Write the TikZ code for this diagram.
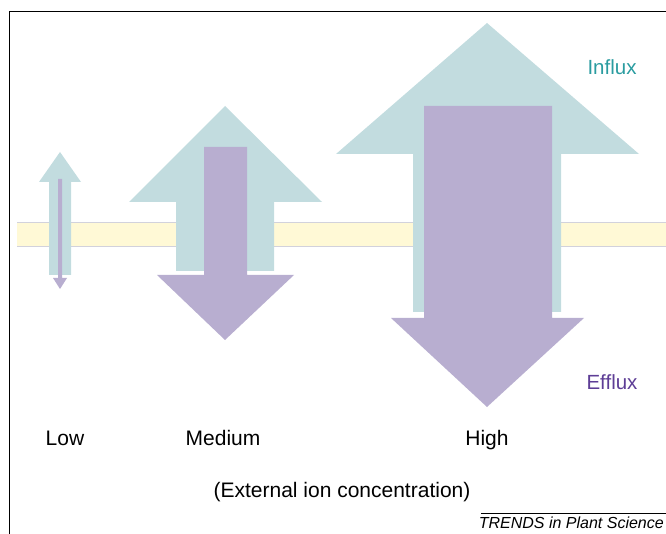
\documentclass[tikz,border=0pt]{standalone}
\usepackage{fontspec}
\setmainfont{Liberation Sans}
\definecolor{influxfill}{HTML}{C2DCDF}
\definecolor{effluxfill}{HTML}{B8AED0}
\definecolor{membrane}{HTML}{FFF9D6}
\definecolor{membraneline}{HTML}{D2D2DC}
\definecolor{influxtext}{HTML}{2A9CA0}
\definecolor{effluxtext}{HTML}{5E3E96}
\tikzset{
  inarrow/.style={fill=influxfill, draw=none},
  outarrow/.style={fill=effluxfill, draw=none},
  label/.style={font=\fontsize{21}{24}\selectfont, inner sep=0pt, anchor=base},
  flux/.style={font=\fontsize{20.5}{24}\selectfont, inner sep=0pt},
}
\begin{document}
\begin{tikzpicture}[x=1pt,y=-1pt]
\useasboundingbox (0,0) rectangle (666,534);
% frame
\draw[line width=1pt] (666,12) -- (9,12) -- (9,534);
% membrane
\fill[membrane] (17,222) rectangle (666,246);
\draw[membraneline, line width=0.8pt] (17,222) -- (666,222) (17,246) -- (666,246);
% Low
\fill[inarrow] (49,275) -- (49,182) -- (39,182) -- (60,152) -- (81,182) -- (71,182) -- (71,275) -- cycle;
\fill[outarrow] (58,179) -- (62,179) -- (62,278) -- (67,278) -- (60,289) -- (53,278) -- (58,278) -- cycle;
% Medium
\fill[inarrow] (176,271) -- (176,202) -- (129,202) -- (225,106) -- (322,202) -- (274,202) -- (274,271) -- cycle;
\fill[outarrow] (204,147) -- (247,147) -- (247,275) -- (294,275) -- (225,340) -- (157,275) -- (204,275) -- cycle;
% High
\fill[inarrow] (413,312) -- (413,154) -- (336,154) -- (487,23) -- (639,154) -- (561,154) -- (561,312) -- cycle;
\fill[outarrow] (424,106) -- (552,106) -- (552,318) -- (584,318) -- (487,407) -- (391,318) -- (424,318) -- cycle;
% labels
\node[flux, text=influxtext] (influx) at (612,67) {Influx};
\node[flux, text=effluxtext] (efflux) at (612,382) {Efflux};
\node[label] (low) at (65,445) {Low};
\node[label] (medium) at (223,445) {Medium};
\node[label] (high) at (487,445) {High};
\node[label] (ext) at (342,497) {(External ion concentration)};
\node[font=\fontsize{16}{18}\selectfont\itshape, inner sep=0pt, anchor=east] (trends) at (664,523) {TRENDS in Plant Science};
\draw[line width=0.6pt] (481,513) -- (666,513);
\end{tikzpicture}
\end{document}
